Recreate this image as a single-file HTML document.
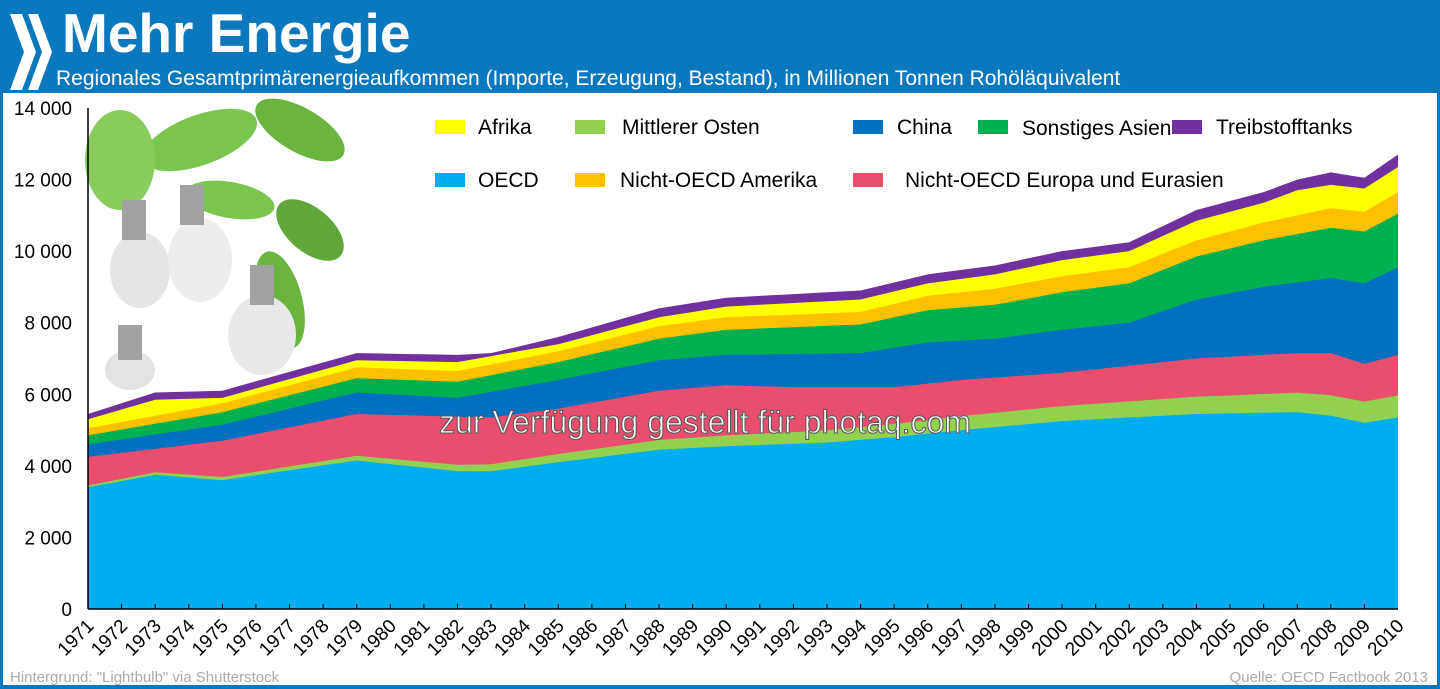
<!DOCTYPE html>
<html><head><meta charset="utf-8"><style>
html,body{margin:0;padding:0;background:#fff}
svg{display:block;font-family:"Liberation Sans",sans-serif}
</style></head><body>
<svg id="s" width="1440" height="689" viewBox="0 0 1440 689" xmlns="http://www.w3.org/2000/svg">
<rect x="0" y="0" width="1440" height="689" fill="#0b77bd"/>
<rect x="3" y="93" width="1434" height="592" fill="#fff"/>
<g fill="#fff">
<polygon points="10,14 22,14 36,52 22,90 10,90 24,52"/>
<polygon points="28,14 38,14 52,52 38,90 28,90 42,52"/>
</g>
<text x="62" y="52" fill="#fff" font-size="55" font-weight="bold">Mehr Energie</text>
<text x="56" y="85" fill="#fff" font-size="21">Regionales Gesamtprimärenergieaufkommen (Importe, Erzeugung, Bestand), in Millionen Tonnen Rohöläquivalent</text>
<g opacity="0.9">
<rect x="88" y="108" width="280" height="270" fill="#fff"/>
<ellipse cx="200" cy="140" rx="60" ry="25" fill="#6cbf3a" transform="rotate(-20 200 140)"/>
<ellipse cx="300" cy="130" rx="50" ry="22" fill="#5aad2a" transform="rotate(30 300 130)"/>
<ellipse cx="120" cy="160" rx="35" ry="50" fill="#7cc84a"/>
<ellipse cx="310" cy="230" rx="40" ry="22" fill="#4e9e25" transform="rotate(40 310 230)"/>
<ellipse cx="230" cy="200" rx="45" ry="18" fill="#6cbf3a" transform="rotate(10 230 200)"/>
<ellipse cx="280" cy="300" rx="22" ry="50" fill="#5aad2a" transform="rotate(-15 280 300)"/>
<ellipse cx="140" cy="270" rx="30" ry="38" fill="#e3e3e3"/>
<ellipse cx="200" cy="260" rx="32" ry="42" fill="#ececec"/>
<ellipse cx="262" cy="335" rx="34" ry="40" fill="#e6e6e6"/>
<ellipse cx="130" cy="370" rx="25" ry="20" fill="#e0e0e0"/>
<rect x="122" y="200" width="24" height="40" fill="#999"/>
<rect x="180" y="185" width="24" height="40" fill="#999"/>
<rect x="250" y="265" width="24" height="40" fill="#999"/>
<rect x="118" y="325" width="24" height="35" fill="#999"/>
</g>
<g id="areas"></g>
<line x1="88" y1="108" x2="88" y2="609" stroke="#000" stroke-width="1.5"/>
<line x1="88" y1="609" x2="1398" y2="609" stroke="#000" stroke-width="1.5"/>
<g id="axis" font-size="19" fill="#000"></g>
<g font-size="21" fill="#000">
<rect x="435" y="120" width="30" height="14" fill="#ffff00"/><text x="478" y="134">Afrika</text>
<rect x="575" y="120" width="30" height="14" fill="#92d050"/><text x="622" y="134">Mittlerer Osten</text>
<rect x="853" y="120" width="30" height="14" fill="#0070c0"/><text x="897" y="134">China</text>
<rect x="978" y="120" width="30" height="14" fill="#00b050"/><text x="1022" y="135">Sonstiges Asien</text>
<rect x="1172" y="120" width="30" height="14" fill="#7030a0"/><text x="1216" y="134">Treibstofftanks</text>
<rect x="435" y="173" width="30" height="14" fill="#00adef"/><text x="478" y="187">OECD</text>
<rect x="575" y="173" width="30" height="14" fill="#ffc000"/><text x="620" y="187">Nicht-OECD Amerika</text>
<rect x="853" y="173" width="30" height="14" fill="#e94e6f"/><text x="905" y="187">Nicht-OECD Europa und Eurasien</text>
</g>
<text x="705" y="433" font-size="32" text-anchor="middle" fill="#fff" stroke="#555" stroke-width="1">zur Verfügung gestellt für photaq.com</text>
<text x="10" y="682" font-size="15" fill="#aaa">Hintergrund: "Lightbulb" via Shutterstock</text>
<text x="1428" y="682" font-size="15" fill="#aaa" text-anchor="end">Quelle: OECD  Factbook 2013</text>
</svg>
<script>
var NS="http://www.w3.org/2000/svg";
function el(t,a,p){var e=document.createElementNS(NS,t);for(var k in a)e.setAttribute(k,a[k]);p.appendChild(e);return e;}
function interp(kf){var r=[];for(var y=1971;y<=2010;y++){for(var i=0;i<kf.length-1;i++){if(y>=kf[i][0]&&y<=kf[i+1][0]){var t=(y-kf[i][0])/(kf[i+1][0]-kf[i][0]);r.push(kf[i][1]+t*(kf[i+1][1]-kf[i][1]));break;}}}return r;}
var oecd=interp([[1971,3400],[1973,3750],[1975,3600],[1979,4150],[1982,3850],[1983,3850],[1985,4100],[1988,4450],[1990,4550],[1993,4650],[1995,4800],[1997,5000],[2000,5250],[2004,5450],[2007,5500],[2008,5400],[2009,5200],[2010,5350]]);
var me=interp([[1971,50],[1979,130],[1985,230],[1990,300],[1995,370],[2000,420],[2005,500],[2010,620]]);
var eur=interp([[1971,4250],[1975,4700],[1979,5450],[1983,5350],[1985,5600],[1988,6100],[1990,6250],[1992,6200],[1995,6200],[1997,6400],[2000,6600],[2004,7000],[2007,7150],[2008,7150],[2009,6850],[2010,7100]]);
var chn=interp([[1971,4600],[1975,5150],[1979,6050],[1982,5900],[1985,6400],[1988,6950],[1990,7100],[1994,7150],[1996,7450],[1998,7550],[2000,7800],[2002,8000],[2004,8650],[2006,9000],[2008,9250],[2009,9100],[2010,9550]]);
var asi=interp([[1971,4850],[1975,5500],[1979,6450],[1982,6350],[1985,6900],[1988,7550],[1990,7800],[1994,7950],[1996,8350],[1998,8500],[2000,8850],[2002,9100],[2004,9850],[2006,10300],[2008,10650],[2009,10550],[2010,11050]]);
var ame=interp([[1971,5050],[1975,5750],[1979,6750],[1982,6650],[1985,7200],[1988,7900],[1990,8150],[1994,8300],[1996,8750],[1998,8950],[2000,9300],[2002,9550],[2004,10300],[2006,10800],[2008,11200],[2009,11100],[2010,11650]]);
var afr=interp([[1971,5300],[1973,5850],[1975,5900],[1979,6950],[1982,6900],[1985,7400],[1988,8150],[1990,8450],[1994,8650],[1996,9100],[1998,9350],[2000,9750],[2002,10000],[2004,10850],[2006,11350],[2007,11700],[2008,11850],[2009,11750],[2010,12350]]);
var tnk=interp([[1971,5450],[1973,6050],[1975,6100],[1979,7150],[1982,7100],[1983,7150],[1985,7600],[1988,8400],[1990,8700],[1992,8800],[1994,8900],[1996,9350],[1998,9600],[2000,10000],[2002,10250],[2004,11150],[2006,11650],[2007,12000],[2008,12200],[2009,12050],[2010,12700]]);
var meTop=oecd.map(function(v,i){return v+me[i];});
for(var i=0;i<40;i++){if(eur[i]<meTop[i]+100)eur[i]=meTop[i]+100;}
var series=[[tnk,"#7030a0"],[afr,"#ffff00"],[ame,"#ffc000"],[asi,"#00b050"],[chn,"#0070c0"],[eur,"#e94e6f"],[meTop,"#92d050"],[oecd,"#00adef"]];
function X(i){return 88+i*1310/39;}function Y(v){return 609-v*501/14000;}
var g=document.getElementById("areas");
series.forEach(function(s){var d="M88,609";s[0].forEach(function(v,i){d+=" L"+X(i).toFixed(1)+","+Y(v).toFixed(1);});d+=" L1398,609 Z";el("path",{d:d,fill:s[1]},g);});
var ax=document.getElementById("axis");
for(var k=0;k<=7;k++){var t=el("text",{x:72,y:Y(k*2000)+7,"text-anchor":"end"},ax);t.textContent=k==0?"0":(k*2)+" 000";}
for(var i=1;i<39;i++){el("line",{x1:X(i),y1:609,x2:X(i),y2:604,stroke:"#000","stroke-width":1},ax);}
for(var i=0;i<40;i++){var x=X(i)+7,y=627;var t=el("text",{x:x,y:y,"text-anchor":"end",transform:"rotate(-45 "+x+" "+y+")"},ax);t.textContent=1971+i;}
</script>
</body></html>
